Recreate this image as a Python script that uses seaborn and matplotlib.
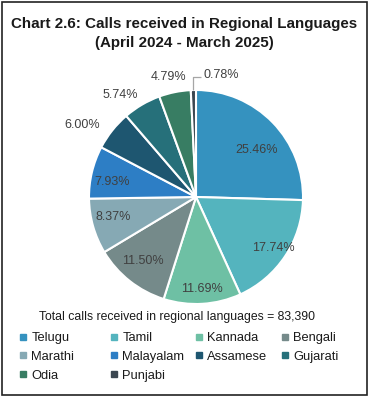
import numpy as np
import matplotlib
matplotlib.use("Agg")
import matplotlib.pyplot as plt
from matplotlib.lines import Line2D
from matplotlib.patches import Rectangle
import seaborn as sns

languages = ["Telugu", "Tamil", "Kannada", "Bengali", "Marathi",
             "Malayalam", "Assamese", "Gujarati", "Odia", "Punjabi"]
shares = [25.46, 17.74, 11.69, 11.50, 8.37, 7.93, 6.00, 5.74, 4.79, 0.78]
colors = ["#3592BF", "#54B4BE", "#6EC0A4", "#758A8A", "#86A9B4",
          "#2D7EC5", "#1E5670", "#26707A", "#387D63", "#3B4650"]
title_text = "Chart 2.6: Calls received in Regional Languages\n(April 2024 - March 2025)"
total_text = "Total calls received in regional languages = 83,390"

# label placement (radius fraction, angle shift in degrees) - layout only
label_pos = [(0.72, -6.6), (0.87, 0), (0.86, 0), (0.78, -1.5), (0.80, -2.5),
             (0.80, 3.3), (1.26, 6.2), (1.19, 6.3), (1.15, 1.6), None]

sns.set_theme(style="white")
plt.rcParams["font.family"] = ["Liberation Sans", "DejaVu Sans"]
palette = sns.color_palette(colors)

W, H = 368, 396
fig = plt.figure(figsize=(W / 100, H / 100), dpi=100)
fig.patch.set_facecolor("white")

cx, cy, rpx = 196, 197, 107
half = 1.4 * rpx
ax = fig.add_axes([(cx - half) / W, (H - cy - half) / H, 2 * half / W, 2 * half / H])
wedges, _ = ax.pie(shares, colors=palette, startangle=90, counterclock=False,
                   radius=1.0, wedgeprops=dict(edgecolor="white", linewidth=1.5))
ax.set_xlim(-1.4, 1.4)
ax.set_ylim(-1.4, 1.4)
ax.axis("off")

lab_color = "#404040"
for w, val, pos in zip(wedges, shares, label_pos):
    mid = (w.theta1 + w.theta2) / 2
    if pos is None:
        ang = np.deg2rad(mid)
        x0, y0 = np.cos(ang), np.sin(ang)
        ax.plot([x0 - 0.005, x0 - 0.005, x0 + 0.07], [y0, 1.12, 1.12],
                color="#A6A6A6", lw=0.9, solid_capstyle="butt")
        ax.text(x0 + 0.09, 1.14, f"{val:.2f}%", ha="left", va="center",
                fontsize=9, color=lab_color)
    else:
        r, dang = pos
        ang = np.deg2rad(mid + dang)
        ax.text(r * np.cos(ang), r * np.sin(ang), f"{val:.2f}%", ha="center",
                va="center", fontsize=9, color=lab_color)

fig.text(184 / W, 1 - 33.5 / H, title_text, ha="center", va="center",
         fontsize=10.9, fontweight="bold", color="#1a1a1a", linespacing=1.45)
fig.text(177 / W, 1 - 317 / H, total_text, ha="center", va="center",
         fontsize=8.8, color="#1a1a1a")

# legend: rows of 4, laid out as separate columns
col_x = [19, 110, 195, 281]
row_top = 332
for c in range(4):
    idx = list(range(c, len(languages), 4))
    handles = [Line2D([0], [0], marker="s", linestyle="", markersize=4.3,
                      markerfacecolor=palette[i], markeredgecolor=palette[i])
               for i in idx]
    fig.legend(handles, [languages[i] for i in idx],
               loc="upper left", bbox_to_anchor=(col_x[c] / W, 1 - row_top / H),
               frameon=False, fontsize=9.3, handlelength=0.55,
               handletextpad=0.4, borderpad=0, borderaxespad=0,
               labelspacing=0.52, labelcolor="#1a1a1a")

fig.add_artist(Rectangle((1.5 / W, 1.5 / H), 1 - 3 / W, 1 - 3 / H,
                         transform=fig.transFigure, fill=False,
                         edgecolor="#222222", lw=1.2))

fig.savefig("out.png", dpi=100, facecolor="white")
